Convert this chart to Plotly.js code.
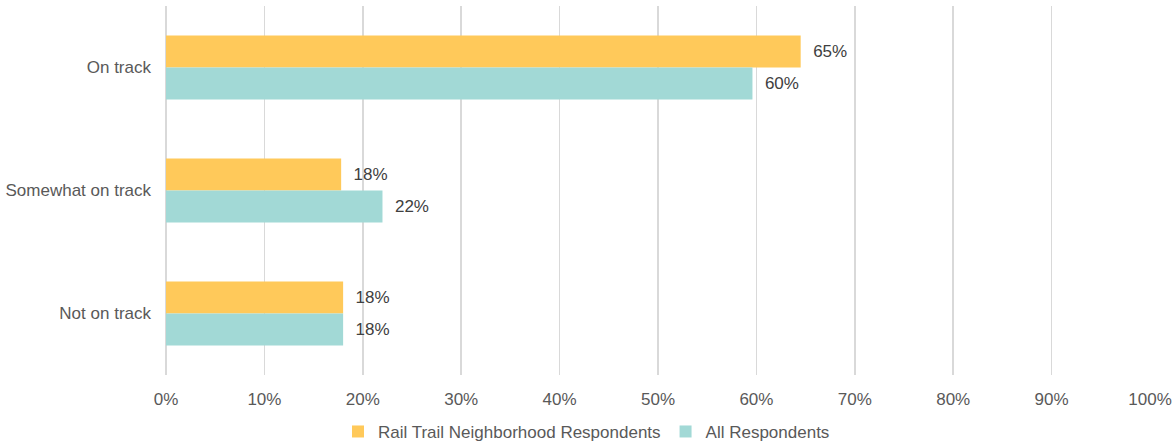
<!DOCTYPE html>
<html>
<head>
<meta charset="utf-8">
<script src="https://cdn.plot.ly/plotly-3.0.1.min.js"></script>
<style>html,body{margin:0;padding:0;background:#fff;}#chart{width:1173px;height:443px;}</style>
</head>
<body>
<div id="chart"></div>
<script>
const categories = ["On track", "Somewhat on track", "Not on track"];
const railTrailValues = [64.5, 17.8, 18.0];
const railTrailLabels = ["65%", "18%", "18%"];
const allValues = [59.6, 22.0, 18.0];
const allLabels = ["60%", "22%", "18%"];
const xTickVals = [0, 10, 20, 30, 40, 50, 60, 70, 80, 90, 100];
const xTickText = ["0%", "10%", "20%", "30%", "40%", "50%", "60%", "70%", "80%", "90%", "100%"];

const fam = "'Liberation Sans', Arial, sans-serif";
const font = {family: fam, size: 17, color: "#595959"};

const traces = [
  {
    type: "bar", orientation: "h", name: "Rail Trail Neighborhood Respondents",
    y: categories, x: railTrailValues, text: railTrailLabels,
    texttemplate: "\u00a0\u00a0%{text}", textposition: "outside", cliponaxis: false,
    textfont: {family: fam, size: 17, color: "#404040"},
    marker: {color: "#FFC95A"}, hoverinfo: "skip"
  },
  {
    type: "bar", orientation: "h", name: "All Respondents",
    y: categories, x: allValues, text: allLabels,
    texttemplate: "\u00a0\u00a0%{text}", textposition: "outside", cliponaxis: false,
    textfont: {family: fam, size: 17, color: "#404040"},
    marker: {color: "#A2D9D6"}, hoverinfo: "skip"
  }
];

const layout = {
  width: 1173, height: 443,
  margin: {l: 166, r: 23, t: 6, b: 68},
  paper_bgcolor: "#fff", plot_bgcolor: "#fff",
  font: font,
  barmode: "group", bargap: 0.48, bargroupgap: 0,
  showlegend: true,
  legend: {orientation: "h", x: 0.5, xanchor: "center", xref: "container", yref: "container", y: 0.025, yanchor: "middle", font: font, traceorder: "normal", itemwidth: 30},
  xaxis: {
    range: [0, 100], tickvals: xTickVals, ticktext: xTickText,
    showgrid: true, gridcolor: "#D9D9D9", gridwidth: 1.5,
    zeroline: true, zerolinecolor: "#D9D9D9", zerolinewidth: 1.5,
    showline: false, ticks: "", ticklabelstandoff: 12, tickfont: font, fixedrange: true
  },
  yaxis: {
    autorange: "reversed", showgrid: false, zeroline: false, showline: false,
    ticks: "", ticklabelstandoff: 14, tickfont: font, fixedrange: true
  }
};

Plotly.newPlot("chart", traces, layout, {displayModeBar: false, staticPlot: true});
</script>
</body>
</html>
